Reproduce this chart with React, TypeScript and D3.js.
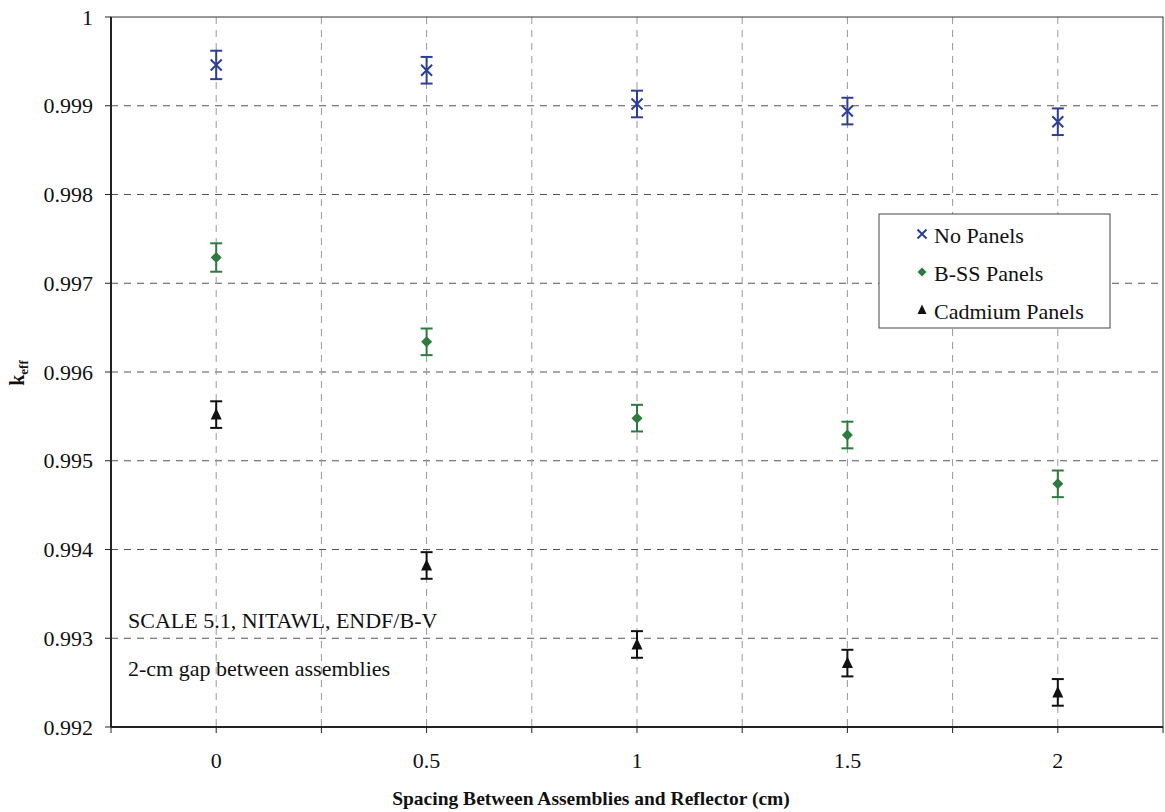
import React from "react";
import * as d3 from "d3";

const spacings = [0, 0.5, 1, 1.5, 2];
const noPanels = [0.99946, 0.9994, 0.99902, 0.99894, 0.99882];
const bssPanels = [0.99729, 0.99634, 0.99548, 0.99529, 0.99474];
const cadmiumPanels = [0.99552, 0.99382, 0.99293, 0.99272, 0.99239];
const errNo = [0.00016, 0.00015, 0.00015, 0.00015, 0.00015];
const errBss = [0.00016, 0.00015, 0.00015, 0.00015, 0.00015];
const errCd = [0.00015, 0.00015, 0.00015, 0.00015, 0.00015];
const yTicks = [0.992, 0.993, 0.994, 0.995, 0.996, 0.997, 0.998, 0.999, 1];
const yTickLabels = ["0.992", "0.993", "0.994", "0.995", "0.996", "0.997", "0.998", "0.999", "1"];
const xGrid = [-0.25, 0, 0.25, 0.5, 0.75, 1, 1.25, 1.5, 1.75, 2, 2.25];
const xTickLabels = ["0", "0.5", "1", "1.5", "2"];
const seriesNames = ["No Panels", "B-SS Panels", "Cadmium Panels"];

const W = 1165, H = 812;
const left = 111, right = 1163, top = 17, bottom = 727;
const FONT = "'Liberation Serif', 'Times New Roman', serif";
const BLUE = "#2b3f96";
const GREEN = "#2f7a3f";
const BLACK = "#111";

export default function App() {
  const x = d3.scaleLinear().domain([-0.25, 2.25]).range([left, right]);
  const y = d3.scaleLinear().domain([0.992, 1]).range([bottom, top]);

  const series = [
    { name: seriesNames[0], vals: noPanels, err: errNo, color: BLUE, shape: "x" },
    { name: seriesNames[1], vals: bssPanels, err: errBss, color: GREEN, shape: "d" },
    { name: seriesNames[2], vals: cadmiumPanels, err: errCd, color: BLACK, shape: "t" },
  ];

  const marker = (shape: string, cx: number, cy: number, color: string, s = 5.5) => {
    if (shape === "x")
      return (
        <path d={`M${cx - s},${cy - s}L${cx + s},${cy + s}M${cx - s},${cy + s}L${cx + s},${cy - s}`} stroke={color} strokeWidth={2} fill="none" />
      );
    if (shape === "d")
      return <path d={`M${cx},${cy - s}L${cx + s},${cy}L${cx},${cy + s}L${cx - s},${cy}Z`} fill={color} />;
    return <path d={`M${cx},${cy - s - 1}L${cx + s},${cy + s - 0.5}L${cx - s},${cy + s - 0.5}Z`} fill={color} />;
  };

  const lx = 879, ly = 214, lw = 231, lh = 114;

  return (
    <svg width={W} height={H} style={{ position: "absolute", left: 0, top: 0, background: "#fff" }} fontFamily={FONT}>
      <rect x={0} y={0} width={W} height={H} fill="#fff" />
      {/* grid */}
      {yTicks.slice(1, -1).map((t) => (
        <line key={"gy" + t} x1={left} x2={right} y1={y(t)} y2={y(t)} stroke="#555" strokeWidth={1} strokeDasharray="7,6" />
      ))}
      {xGrid.slice(1, -1).map((t) => (
        <line key={"gx" + t} x1={x(t)} x2={x(t)} y1={top} y2={bottom} stroke="#999" strokeWidth={1} strokeDasharray="7,6" />
      ))}
      {/* axes frame */}
      <rect x={left} y={top} width={right - left} height={bottom - top} fill="none" stroke="#333" strokeWidth={1} />
      <line x1={left} x2={left} y1={top} y2={bottom} stroke="#222" strokeWidth={2} />
      <line x1={left} x2={right} y1={bottom} y2={bottom} stroke="#222" strokeWidth={2} />
      {/* ticks */}
      {yTicks.map((t, i) => (
        <g key={"yt" + t}>
          <line x1={left - 6} x2={left} y1={y(t)} y2={y(t)} stroke="#222" />
          <text x={left - 18} y={y(t)} dy="0.35em" textAnchor="end" fontSize={22} fill="#111">{yTickLabels[i]}</text>
        </g>
      ))}
      {xGrid.map((t) => (
        <line key={"xt" + t} x1={x(t)} x2={x(t)} y1={bottom} y2={bottom + 6} stroke="#222" />
      ))}
      {spacings.map((s, i) => (
        <text key={"xl" + s} x={x(s)} y={768} textAnchor="middle" fontSize={22} fill="#111">{xTickLabels[i]}</text>
      ))}
      {/* series */}
      {series.map((se) => (
        <g key={se.name}>
          {spacings.map((s, i) => {
            const cx = x(s);
            const cy = y(se.vals[i]);
            const y1 = y(se.vals[i] + se.err[i]);
            const y2 = y(se.vals[i] - se.err[i]);
            return (
              <g key={i}>
                <line x1={cx} x2={cx} y1={y1} y2={y2} stroke={se.color} strokeWidth={2} />
                <line x1={cx - 6} x2={cx + 6} y1={y1} y2={y1} stroke={se.color} strokeWidth={2} />
                <line x1={cx - 6} x2={cx + 6} y1={y2} y2={y2} stroke={se.color} strokeWidth={2} />
                {marker(se.shape, cx, cy, se.color)}
              </g>
            );
          })}
        </g>
      ))}
      {/* legend */}
      <rect x={lx} y={ly} width={lw} height={lh} fill="#fff" stroke="#444" strokeWidth={1} />
      {series.map((se, i) => (
        <g key={"lg" + i}>
          {marker(se.shape, 922, ly + 20 + i * 38, se.color, 4.5)}
          <text x={934} y={ly + 21 + i * 38} dy="0.35em" fontSize={22} fill="#111">{se.name}</text>
        </g>
      ))}
      {/* annotations */}
      <text x={128} y={620} dy="0.35em" fontSize={22} fill="#111">SCALE 5.1, NITAWL, ENDF/B-V</text>
      <text x={128} y={668} dy="0.35em" fontSize={22} fill="#111">2-cm gap between assemblies</text>
      {/* axis labels */}
      <text x={591} y={805} textAnchor="middle" fontSize={19.5} fontWeight="bold" fill="#111">
        Spacing Between Assemblies and Reflector (cm)
      </text>
      <text transform="translate(24,373) rotate(-90)" textAnchor="middle" fontSize={20} fontWeight="bold" fill="#111">
        k<tspan fontSize={13} dy={4}>eff</tspan>
      </text>
    </svg>
  );
}
